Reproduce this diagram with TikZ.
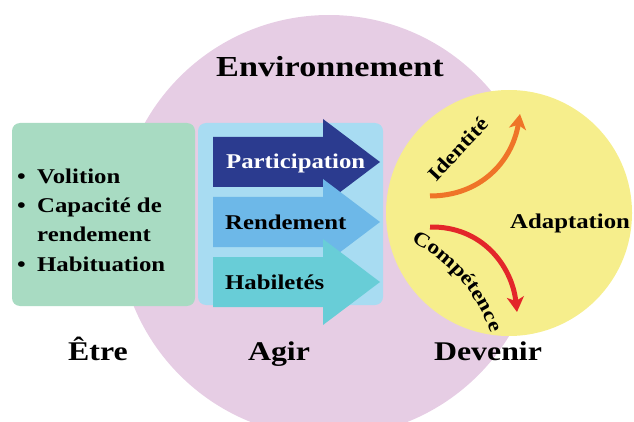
\documentclass[tikz,border=0pt]{standalone}
\usepackage{fontspec}
\setmainfont{Liberation Serif}[FakeStretch=1.18]
\usetikzlibrary{arrows.meta,decorations.text}

\definecolor{envpink}{HTML}{E6CDE4}
\definecolor{sunyellow}{HTML}{F6EE8C}
\definecolor{mint}{HTML}{A8DBC2}
\definecolor{skyblue}{HTML}{A8DCF2}
\definecolor{navyblue}{HTML}{2B3B8F}
\definecolor{midblue}{HTML}{6DB8E8}
\definecolor{turquoise}{HTML}{68CDD7}
\definecolor{flame}{HTML}{EF7428}
\definecolor{scarlet}{HTML}{E3262A}

\begin{document}
\begin{tikzpicture}[x=1pt,y=-1pt,
  txt/.style={font=\bfseries\fontsize{21}{21}\selectfont, inner sep=0pt, anchor=base west},
  title/.style={font=\bfseries\fontsize{29}{29}\selectfont, inner sep=0pt, anchor=base},
  heading/.style={title, font=\bfseries\fontsize{27}{27}\selectfont},
  panel/.style={rounded corners=8pt},
  curvearrow/.style={line width=5pt, -{Stealth[length=15pt,width=17pt,inset=4pt]}}
]
\useasboundingbox (0,0) rectangle (634,422);

% environment and adaptation discs
\fill[envpink] (329,226) circle[radius=211pt];
\fill[sunyellow] (509,213) circle[radius=123pt];

% panels
\fill[mint, panel] (12,123) rectangle (195,306);
\fill[skyblue, panel] (198,123) rectangle (383,305);

% block arrows, drawn top to bottom so each overlaps the previous one
\foreach \c/\col in {162/navyblue, 222/midblue, 282/turquoise}{
  \fill[\col] (213,\c-25) -- (323,\c-25) -- (323,\c-43) -- (380,\c)
    -- (323,\c+43) -- (323,\c+25) -- (213,\c+25) -- cycle;
}
\node[txt, text=white] (part) at (226,168) {Participation};
\node[txt] (rend) at (225,229) {Rendement};
\node[txt] (habi) at (225,289) {Habiletés};

% list of the person's components
\node[txt] (b1) at (17,183) {•};
\node[txt] (l1) at (37,183) {Volition};
\node[txt] (b2) at (17,212) {•};
\node[txt] (l2) at (37,212) {Capacité de};
\node[txt] (l3) at (37,241) {rendement};
\node[txt] (b3) at (17,271) {•};
\node[txt] (l4) at (37,271) {Habituation};

% headings
\node[title] (env) at (330,77) {Environnement};
\node[heading] (etre) at (98,360) {Être};
\node[heading] (agir) at (279,360) {Agir};
\node[heading] (devenir) at (488,360) {Devenir};
\node[txt] (adapt) at (510,228) {Adaptation};

% curved arrows inside the adaptation disc
\coordinate (o1) at (430,196);
\coordinate (o2) at (520,114);
\coordinate (r1) at (430,227);
\coordinate (r2) at (517,312);
\draw[curvearrow, flame] (o1) .. controls (480,196) and (512,162) .. (o2);
\draw[curvearrow, scarlet] (r1) .. controls (482,226) and (512,266) .. (r2);

% labels of the two arrows
\node[font=\bfseries\fontsize{20}{20}\selectfont, inner sep=0pt, rotate=47]
  (ident) at (458,149) {Identité};
\path[decorate, decoration={text along path, text align=center,
    text={|\bfseries\fontsize{20}{20}\selectfont|Compétence}}]
  (408,240) .. controls (446,258) and (478,292) .. (492,336);
\end{tikzpicture}
\end{document}
